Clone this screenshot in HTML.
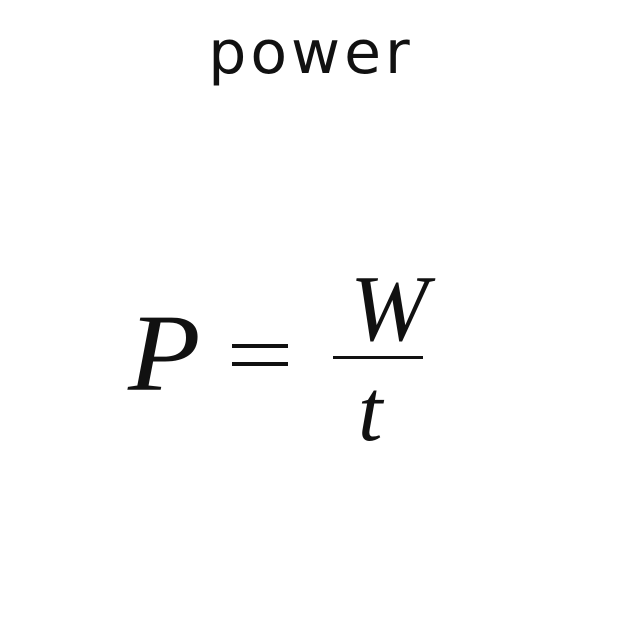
<!DOCTYPE html>
<html><head><style>
html,body{margin:0;padding:0;background:#fff;width:640px;height:640px;overflow:hidden}
.t{position:absolute;left:-9px;width:640px;top:13px;text-align:center;font-family:"DejaVu Sans","Liberation Sans",sans-serif;font-size:60px;letter-spacing:4px;color:#111;line-height:80px}
.m{position:absolute;font-family:"Liberation Serif",serif;font-style:italic;color:#111}
</style></head><body>
<div class="t">power</div>
<div class="m" style="left:128px;top:303px;font-size:110px;line-height:100px;transform:scaleX(1.08);transform-origin:left top">P</div>
<div style="position:absolute;left:232px;top:344px;width:56px;height:4px;background:#111"></div>
<div style="position:absolute;left:232px;top:362px;width:56px;height:4px;background:#111"></div>
<div class="m" style="left:350px;top:262px;font-size:94px;line-height:94px">W</div>
<div style="position:absolute;left:333px;top:356px;width:90px;height:3px;background:#111"></div>
<div class="m" style="left:358px;top:368px;font-size:88px;line-height:88px">t</div>
</body></html>
